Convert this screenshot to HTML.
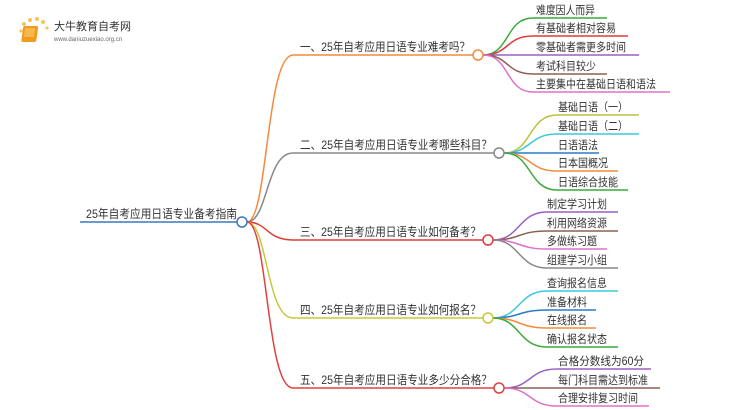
<!DOCTYPE html>
<html><head><meta charset="utf-8"><style>
html,body{margin:0;padding:0;background:#fff;width:750px;height:410px;overflow:hidden}
svg text{font-family:"Liberation Sans","Noto Sans CJK SC",sans-serif;fill:#333}
</style></head><body>
<svg width="750" height="410" viewBox="0 0 750 410" xmlns="http://www.w3.org/2000/svg">
<g>
<circle cx="24" cy="24" r="2" fill="#f7c35a"/><circle cx="30" cy="20" r="2" fill="#f7c35a"/><circle cx="37" cy="19" r="2" fill="#f7c35a"/><circle cx="43" cy="22" r="2" fill="#f7c35a"/><circle cx="21" cy="31" r="1.6" fill="#f7c35a"/><circle cx="47" cy="28" r="1.6" fill="#f7c35a"/>
<rect x="27" y="26" width="15" height="16" rx="2" fill="#f29a1d" transform="skewX(-8)"/>
<rect x="29" y="28" width="10" height="9" fill="#f7b94d" transform="skewX(-8)"/>
<text x="54" y="30" font-size="11" style="fill:#333">大牛教育自考网</text>
<text x="54" y="41" font-size="6" style="fill:#666">www.daniuzuexiao.org.cn</text>
</g>
<g fill="none" stroke-width="1.5">
<line x1="80" y1="222" x2="237" y2="222" stroke="#3a78c0"/>
<path d="M247 222 C268 222 266 55 293 55 L478 55" stroke="#f58a3c"/>
<path d="M247 222 C268 222 266 153 293 153 L499 153" stroke="#888"/>
<path d="M247 222 C268 222 266 240 293 240 L488 240" stroke="#e03a3a"/>
<path d="M247 222 C268 222 266 318 293 318 L488 318" stroke="#c8c83a"/>
<path d="M247 222 C268 222 266 388 293 388 L499 388" stroke="#e04040"/>
<path d="M483 55 C510 55 505 18 533 18 L607 18" stroke="#3aaa3a"/>
<path d="M483 55 C510 55 505 36 533 36 L628 36" stroke="#e03a3a"/>
<path d="M483 55 L639 55" stroke="#9b5fc8"/>
<path d="M483 55 C510 55 505 74 533 74 L607 74" stroke="#8a6050"/>
<path d="M483 55 C510 55 505 92 533 92 L670 92" stroke="#e070c8"/>
<path d="M504 153 C532 153 528 115 557 115 L639 115" stroke="#bcc03a"/>
<path d="M504 153 C532 153 528 134 557 134 L639 134" stroke="#3ac8dc"/>
<path d="M504 153 L599 153" stroke="#2a7ac8"/>
<path d="M504 153 C532 153 528 171 557 171 L618 171" stroke="#f58a3c"/>
<path d="M504 153 C532 153 528 190 557 190 L628 190" stroke="#3aaa3a"/>
<path d="M493 240 C520 240 518 212 547 212 L618 212" stroke="#9b5fc8"/>
<path d="M493 240 C520 240 518 231 547 231 L618 231" stroke="#8a6050"/>
<path d="M493 240 C520 240 518 249 547 249 L607 249" stroke="#e070c8"/>
<path d="M493 240 C520 240 518 268 547 268 L618 268" stroke="#888"/>
<path d="M493 318 C520 318 518 291 547 291 L618 291" stroke="#3ac8dc"/>
<path d="M493 318 C520 318 518 310 547 310 L596 310" stroke="#2a7ac8"/>
<path d="M493 318 C520 318 518 328 547 328 L596 328" stroke="#f58a3c"/>
<path d="M493 318 C520 318 518 347 547 347 L618 347" stroke="#3aaa3a"/>
<path d="M504 388 C532 388 528 369 557 369 L651 369" stroke="#9b5fc8"/>
<path d="M504 388 L660 388" stroke="#8a6050"/>
<path d="M504 388 C532 388 528 406 557 406 L649 406" stroke="#e070c8"/>
</g>
<g fill="#fff" stroke-width="1.5">
<circle cx="242" cy="222" r="5" stroke="#3a78c0"/>
<circle cx="478" cy="55" r="5" stroke="#f58a3c"/>
<circle cx="499" cy="153" r="5" stroke="#888"/>
<circle cx="488" cy="240" r="5" stroke="#e03a3a"/>
<circle cx="488" cy="318" r="5" stroke="#c8c83a"/>
<circle cx="499" cy="388" r="5" stroke="#e04040"/>
</g>
<g font-size="12">
<text x="86" y="218" textLength="151" lengthAdjust="spacingAndGlyphs">25年自考应用日语专业备考指南</text>
<text x="300" y="51" textLength="170" lengthAdjust="spacingAndGlyphs">一、25年自考应用日语专业难考吗？</text>
<text x="300" y="149" textLength="192" lengthAdjust="spacingAndGlyphs">二、25年自考应用日语专业考哪些科目？</text>
<text x="300" y="236" textLength="181" lengthAdjust="spacingAndGlyphs">三、25年自考应用日语专业如何备考？</text>
<text x="300" y="314" textLength="181" lengthAdjust="spacingAndGlyphs">四、25年自考应用日语专业如何报名？</text>
<text x="300" y="384" textLength="192" lengthAdjust="spacingAndGlyphs">五、25年自考应用日语专业多少分合格？</text>
</g>
<g font-size="11.5">
<text x="536" y="14" textLength="59" lengthAdjust="spacingAndGlyphs">难度因人而异</text>
<text x="536" y="32" textLength="80" lengthAdjust="spacingAndGlyphs">有基础者相对容易</text>
<text x="536" y="51" textLength="90" lengthAdjust="spacingAndGlyphs">零基础者需更多时间</text>
<text x="536" y="70" textLength="60" lengthAdjust="spacingAndGlyphs">考试科目较少</text>
<text x="536" y="88" textLength="120" lengthAdjust="spacingAndGlyphs">主要集中在基础日语和语法</text>
<text x="558" y="111" textLength="70" lengthAdjust="spacingAndGlyphs">基础日语（一）</text>
<text x="558" y="130" textLength="70" lengthAdjust="spacingAndGlyphs">基础日语（二）</text>
<text x="558" y="149" textLength="40" lengthAdjust="spacingAndGlyphs">日语语法</text>
<text x="558" y="167" textLength="50" lengthAdjust="spacingAndGlyphs">日本国概况</text>
<text x="558" y="186" textLength="60" lengthAdjust="spacingAndGlyphs">日语综合技能</text>
<text x="547" y="208" textLength="60" lengthAdjust="spacingAndGlyphs">制定学习计划</text>
<text x="547" y="227" textLength="60" lengthAdjust="spacingAndGlyphs">利用网络资源</text>
<text x="547" y="245" textLength="50" lengthAdjust="spacingAndGlyphs">多做练习题</text>
<text x="547" y="264" textLength="60" lengthAdjust="spacingAndGlyphs">组建学习小组</text>
<text x="547" y="287" textLength="60" lengthAdjust="spacingAndGlyphs">查询报名信息</text>
<text x="547" y="306" textLength="40" lengthAdjust="spacingAndGlyphs">准备材料</text>
<text x="547" y="324" textLength="40" lengthAdjust="spacingAndGlyphs">在线报名</text>
<text x="547" y="343" textLength="60" lengthAdjust="spacingAndGlyphs">确认报名状态</text>
<text x="558" y="365" textLength="86" lengthAdjust="spacingAndGlyphs">合格分数线为60分</text>
<text x="558" y="384" textLength="90" lengthAdjust="spacingAndGlyphs">每门科目需达到标准</text>
<text x="558" y="402" textLength="80" lengthAdjust="spacingAndGlyphs">合理安排复习时间</text>
</g>
</svg>
</body></html>
